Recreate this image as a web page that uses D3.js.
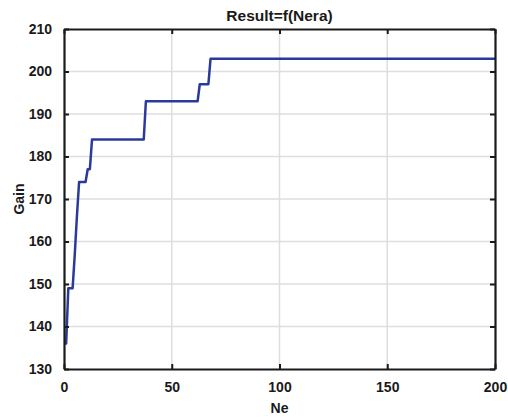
<!DOCTYPE html>
<html>
<head>
    <style>
        body { margin: 0; background: #fff; }
        svg text { font-family: "Liberation Sans", Arial, sans-serif; font-weight: bold; fill: #1a1a1a; }
        .grid line { stroke: #dedede; stroke-width: 1.5px; }
        .axis path, .axis line { stroke: #1a1a1a; }
    </style>
</head>
<body>
    <div id="chart"></div>

    <script src="https://d3js.org/d3.v7.min.js"></script>
    <script>
        // values
        const ne   = [0, 1, 2, 4, 5, 6, 7, 10, 11, 12, 13, 37, 38, 62, 63, 67, 68, 200];
        const gain = [136, 136, 149, 149, 157, 166, 174, 174, 177, 177, 184, 184, 193, 193, 197, 197, 203, 203];
        const xTicks = [0, 50, 100, 150, 200];
        const yTicks = [130, 140, 150, 160, 170, 180, 190, 200, 210];

        const width = 508, height = 417;
        const margin = {top: 29, right: 13, bottom: 48, left: 64};
        const w = width - margin.left - margin.right;
        const h = height - margin.top - margin.bottom;

        const svg = d3.select("#chart")
            .append("svg")
            .attr("width", width)
            .attr("height", height);

        const g = svg.append("g")
            .attr("transform", `translate(${margin.left},${margin.top})`);

        const x = d3.scaleLinear().domain([0, 200]).range([0, w]);
        const y = d3.scaleLinear().domain([130, 210]).range([h, 0]);

        // grid
        g.append("g").attr("class", "grid")
            .selectAll("line").data(xTicks.slice(1, -1)).enter().append("line")
            .attr("x1", d => x(d)).attr("x2", d => x(d))
            .attr("y1", 0).attr("y2", h);
        g.append("g").attr("class", "grid")
            .selectAll("line").data(yTicks.slice(1, -1)).enter().append("line")
            .attr("x1", 0).attr("x2", w)
            .attr("y1", d => y(d)).attr("y2", d => y(d));

        // data line
        const pts = ne.map((d, i) => [d, gain[i]]);
        g.append("path")
            .datum(pts)
            .attr("fill", "none")
            .attr("stroke", "#2a3a9c")
            .attr("stroke-width", 2.5)
            .attr("stroke-linejoin", "round")
            .attr("d", d3.line().x(d => x(d[0])).y(d => y(d[1])));

        // axes, ticks inward
        g.append("g").attr("class", "axis")
            .attr("transform", `translate(0,${h})`)
            .call(d3.axisBottom(x).tickValues(xTicks).tickSize(-5).tickPadding(13).tickSizeOuter(0));
        g.append("g").attr("class", "axis")
            .call(d3.axisLeft(y).tickValues(yTicks).tickSize(-5).tickPadding(12).tickSizeOuter(0));
        g.append("g").attr("class", "axis")
            .call(d3.axisTop(x).tickValues(xTicks).tickSize(-5).tickSizeOuter(0).tickFormat(""));
        g.append("g").attr("class", "axis")
            .attr("transform", `translate(${w},0)`)
            .call(d3.axisRight(y).tickValues(yTicks).tickSize(-5).tickSizeOuter(0).tickFormat(""));

        g.selectAll(".axis path").attr("stroke-width", 2.2);
        g.selectAll(".axis line").attr("stroke-width", 2);
        g.selectAll(".axis text").style("font-size", "14px");

        // labels
        svg.append("text")
            .attr("x", margin.left + w / 2).attr("y", 21)
            .attr("text-anchor", "middle")
            .style("font-size", "15.5px")
            .text("Result=f(Nera)");
        svg.append("text")
            .attr("x", margin.left + w / 2).attr("y", 413)
            .attr("text-anchor", "middle")
            .style("font-size", "14px")
            .text("Ne");
        svg.append("text")
            .attr("transform", `translate(24,${margin.top + h / 2}) rotate(-90)`)
            .attr("text-anchor", "middle")
            .style("font-size", "14px")
            .text("Gain");
    </script>
</body>
</html>
